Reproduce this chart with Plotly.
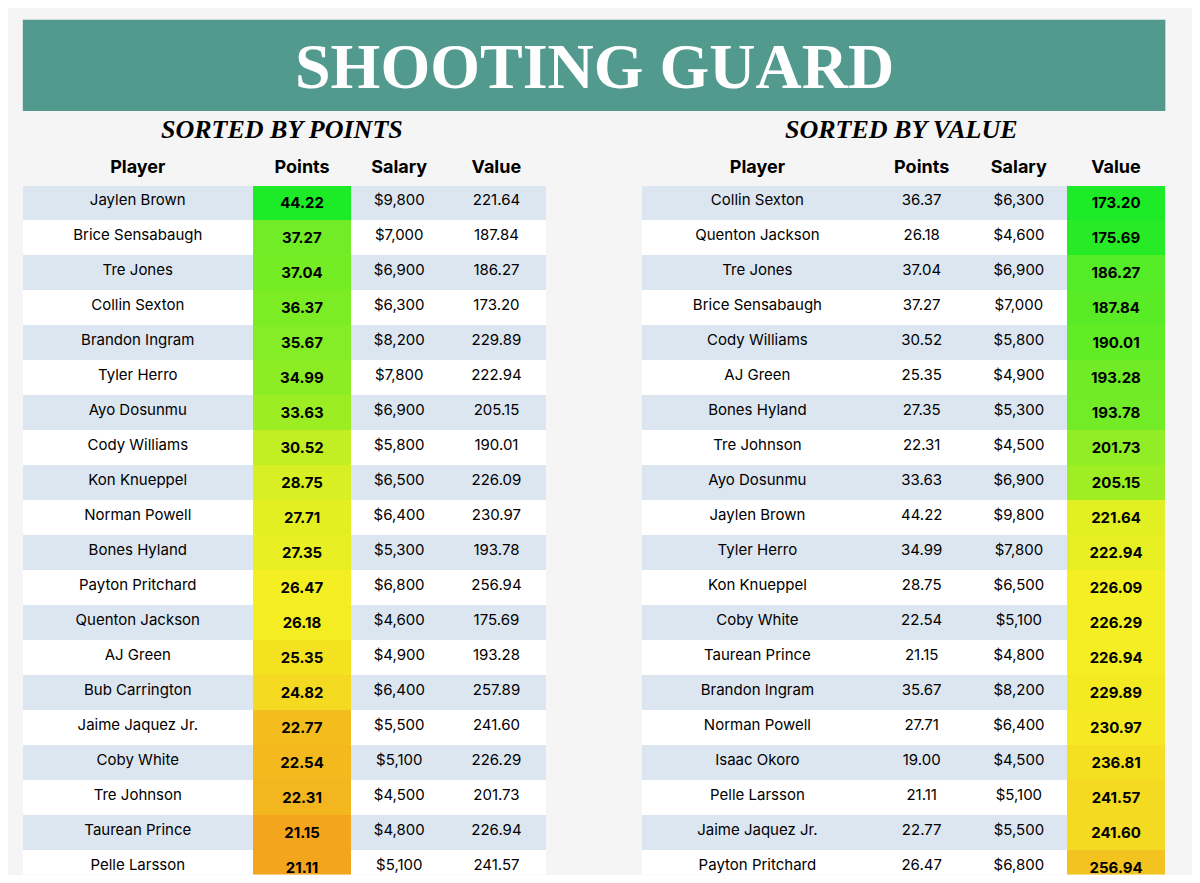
import numpy as np
import plotly.graph_objects as go

# ---- data: sorted by points ----
pts_players = ["Jaylen Brown", "Brice Sensabaugh", "Tre Jones", "Collin Sexton", "Brandon Ingram",
               "Tyler Herro", "Ayo Dosunmu", "Cody Williams", "Kon Knueppel", "Norman Powell",
               "Bones Hyland", "Payton Pritchard", "Quenton Jackson", "AJ Green", "Bub Carrington",
               "Jaime Jaquez Jr.", "Coby White", "Tre Johnson", "Taurean Prince", "Pelle Larsson",
               "Isaac Okoro", "Drake Powell", "Ja'Kobe Walter", "Baylor Scheierman"]
pts_points = [44.22, 37.27, 37.04, 36.37, 35.67, 34.99, 33.63, 30.52, 28.75, 27.71, 27.35, 26.47,
              26.18, 25.35, 24.82, 22.77, 22.54, 22.31, 21.15, 21.11, 19.00, 15.85, 13.96, 13.17]
pts_salary = [9800, 7000, 6900, 6300, 8200, 7800, 6900, 5800, 6500, 6400, 5300, 6800,
              4600, 4900, 6400, 5500, 5100, 4500, 4800, 5100, 4500, 4200, 5000, 4100]
pts_value = [221.64, 187.84, 186.27, 173.20, 229.89, 222.94, 205.15, 190.01, 226.09, 230.97, 193.78, 256.94,
             175.69, 193.28, 257.89, 241.60, 226.29, 201.73, 226.94, 241.57, 236.81, 265.02, 358.18, 311.22]

# ---- data: sorted by value ----
val_players = ["Collin Sexton", "Quenton Jackson", "Tre Jones", "Brice Sensabaugh", "Cody Williams",
               "AJ Green", "Bones Hyland", "Tre Johnson", "Ayo Dosunmu", "Jaylen Brown", "Tyler Herro",
               "Kon Knueppel", "Coby White", "Taurean Prince", "Brandon Ingram", "Norman Powell",
               "Isaac Okoro", "Pelle Larsson", "Jaime Jaquez Jr.", "Payton Pritchard", "Bub Carrington",
               "Drake Powell", "Baylor Scheierman", "Ja'Kobe Walter"]
val_points = [36.37, 26.18, 37.04, 37.27, 30.52, 25.35, 27.35, 22.31, 33.63, 44.22, 34.99, 28.75,
              22.54, 21.15, 35.67, 27.71, 19.00, 21.11, 22.77, 26.47, 24.82, 15.85, 13.17, 13.96]
val_salary = [6300, 4600, 6900, 7000, 5800, 4900, 5300, 4500, 6900, 9800, 7800, 6500,
              5100, 4800, 8200, 6400, 4500, 5100, 5500, 6800, 6400, 4200, 4100, 5000]
val_value = [173.20, 175.69, 186.27, 187.84, 190.01, 193.28, 193.78, 201.73, 205.15, 221.64, 222.94, 226.09,
             226.29, 226.94, 229.89, 230.97, 236.81, 241.57, 241.60, 256.94, 257.89, 265.02, 311.22, 358.18]

headers = ["Player", "Points", "Salary", "Value"]

W, H = 1184, 867  # fits inside the window next to the page margin
S = H / 883.0

BG = "#f5f5f5"
STRIPE = "#dce6f1"
RED, YEL, GRN = np.array([240, 52, 20]), np.array([245, 240, 35]), np.array([30, 235, 40])


def scale_colors(vals, low_good=False):
    v = np.array(vals, float)
    lo, mid, hi = v.min(), np.median(v), v.max()
    a, b = (GRN, RED) if low_good else (RED, GRN)
    out = []
    for x in v:
        if x <= mid:
            c = a + (YEL - a) * (x - lo) / (mid - lo)
        else:
            c = YEL + (b - YEL) * (x - mid) / (hi - mid)
        out.append("rgb(%d,%d,%d)" % tuple(c.astype(int)))
    return out


def make_table(players, points, salary, value, hi_col, x0, x1, low_good):
    n = len(players)
    stripes = [STRIPE if i % 2 == 0 else "white" for i in range(n)]
    fills = [stripes[:] for _ in range(4)]
    fills[hi_col] = scale_colors(points if hi_col == 1 else value, low_good)
    pts_txt = ["%.2f" % p for p in points]
    val_txt = ["%.2f" % v for v in value]
    if hi_col == 1:
        pts_txt = ["<b>%s</b>" % t for t in pts_txt]
    else:
        val_txt = ["<b>%s</b>" % t for t in val_txt]
    return go.Table(
        domain=dict(x=[x0 / 1200, x1 / 1200], y=[0, 1 - 143 / 883]),
        columnwidth=[233, 100, 97, 100],
        header=dict(values=["<b>%s</b>" % h for h in headers], fill_color=BG, line_color=BG,
                    font=dict(family="Inter", size=18, color="black"), align="center", height=30),
        cells=dict(values=[players, pts_txt, ["${:,}".format(s) for s in salary], val_txt],
                   fill_color=fills, line=dict(color="rgba(0,0,0,0)", width=0),
                   font=dict(family="Inter", size=15, color="black"), align="center", height=28),
    )


fig = go.Figure()
fig.add_trace(make_table(pts_players, pts_points, pts_salary, pts_value, 1, 15, 546, False))
fig.add_trace(make_table(val_players, val_points, val_salary, val_value, 3, 643, 1174, True))

fig.add_shape(type="rect", xref="paper", yref="paper", x0=15 / 1200, x1=1173 / 1200,
              y0=1 - 105 / 883, y1=1 - 12 / 883, fillcolor="#52998e", line_width=0, layer="below")
fig.add_annotation(text="<b>SHOOTING GUARD</b>", xref="paper", yref="paper", x=594 / 1200, y=1 - 60 / 883,
                   xanchor="center", yanchor="middle", showarrow=False,
                   font=dict(family="Liberation Serif", size=64, color="white"))
for txt, xc in [("SORTED BY POINTS", 278), ("SORTED BY VALUE", 906)]:
    fig.add_annotation(text="<b><i>%s</i></b>" % txt, xref="paper", yref="paper", x=xc / 1200,
                       y=1 - 124 / 883, xanchor="center", yanchor="middle", showarrow=False,
                       font=dict(family="Liberation Serif", size=26, color="black"))

fig.update_layout(width=W, height=H, margin=dict(l=0, r=0, t=0, b=0),
                  paper_bgcolor=BG, plot_bgcolor=BG)
fig.write_html("out.html")
